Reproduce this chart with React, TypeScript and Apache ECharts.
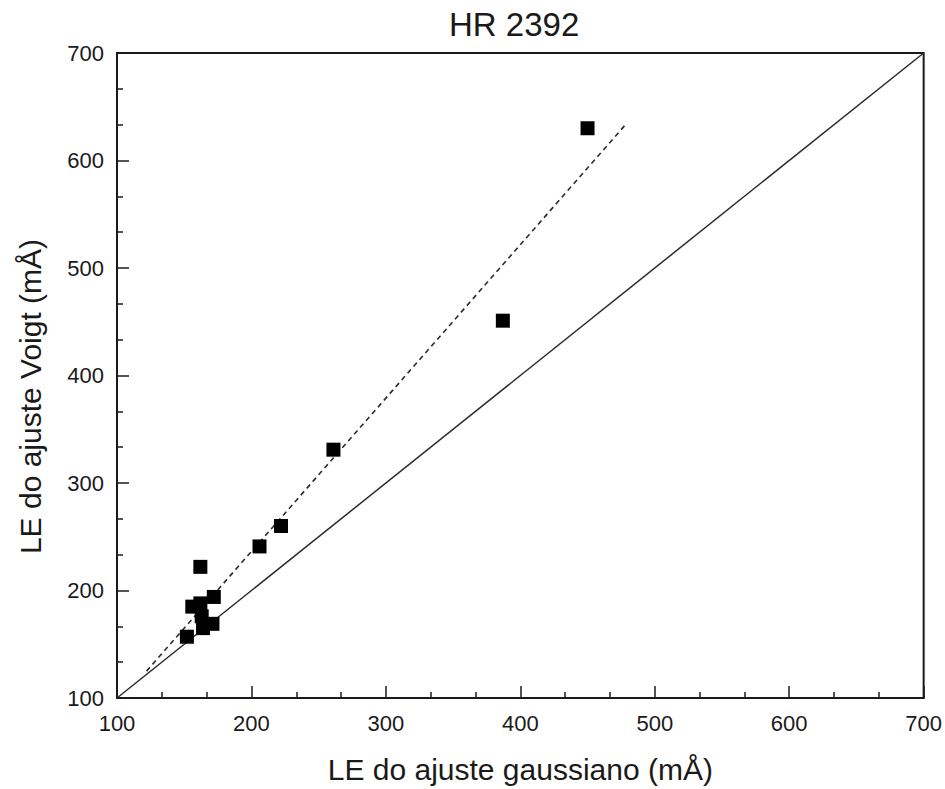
import React, { useEffect, useRef } from "react";
import * as echarts from "echarts";

const chartTitle = "HR 2392";
const xAxisName = "LE do ajuste gaussiano (mÅ)";
const yAxisName = "LE do ajuste Voigt (mÅ)";

// Equivalent widths: Gaussian fit (x) vs Voigt fit (y), mÅ
const gaussEW = [152, 156, 162, 163, 164, 171, 172, 162, 206, 222, 261, 387, 450];
const voigtEW = [157, 185, 188, 176, 165, 169, 194, 222, 241, 260, 331, 451, 630];

// identity line (y = x)
const identityX = [100, 700];
const identityY = [100, 700];

// fitted (dashed) line endpoints
const fitX = [122, 478];
const fitY = [125, 633];

const FONT = "'Liberation Sans', Arial, Helvetica, sans-serif";
const INK = "#1a1a1a";

export default function App() {
  const ref = useRef<HTMLDivElement>(null);

  useEffect(() => {
    if (!ref.current) return;
    const chart = echarts.init(ref.current, null, { renderer: "svg" });

    const scatterData = gaussEW.map((x, i) => [x, voigtEW[i]]);
    const identityData = identityX.map((x, i) => [x, identityY[i]]);
    const fitData = fitX.map((x, i) => [x, fitY[i]]);

    const axisCommon = {
      type: "value" as const,
      min: 100,
      max: 700,
      interval: 100,
      axisLine: { show: true, onZero: false, lineStyle: { color: INK, width: 2 } },
      axisTick: { show: true, inside: true, length: 12, lineStyle: { color: INK, width: 1.5 } },
      minorTick: { show: true, splitNumber: 3, length: 6, lineStyle: { color: INK, width: 1.5 } },
      splitLine: { show: false },
      minorSplitLine: { show: false },
      nameLocation: "middle" as const,
    };

    chart.setOption({
      animation: false,
      backgroundColor: "#ffffff",
      textStyle: { fontFamily: FONT },
      title: {
        text: chartTitle,
        left: 449,
        top: 8,
        padding: 0,
        textStyle: { fontFamily: FONT, fontSize: 33, fontWeight: "normal", color: INK },
      },
      grid: {
        left: 117,
        right: 21,
        top: 53,
        bottom: 88,
        show: true,
        borderColor: INK,
        borderWidth: 2,
        backgroundColor: "transparent",
      },
      xAxis: {
        ...axisCommon,
        name: xAxisName,
        nameGap: 56,
        nameTextStyle: { fontFamily: FONT, fontSize: 30, color: INK },
        axisLabel: { fontFamily: FONT, fontSize: 22, color: INK, margin: 14 },
      },
      yAxis: {
        ...axisCommon,
        name: yAxisName,
        nameGap: 72,
        nameRotate: 90,
        nameTextStyle: { fontFamily: FONT, fontSize: 30, color: INK, padding: [0, 42, 0, 0] },
        axisLabel: { fontFamily: FONT, fontSize: 22, color: INK, margin: 13 },
      },
      series: [
        {
          type: "line",
          data: identityData,
          showSymbol: false,
          symbol: "none",
          lineStyle: { color: "#2a2a2a", width: 1.5 },
          silent: true,
          z: 2,
        },
        {
          type: "line",
          data: fitData,
          showSymbol: false,
          symbol: "none",
          lineStyle: { color: "#2a2a2a", width: 1.6, type: [5, 4] },
          silent: true,
          z: 2,
        },
        {
          type: "scatter",
          data: scatterData,
          symbol: "rect",
          symbolSize: 14,
          itemStyle: { color: "#000", opacity: 1 },
          z: 3,
        },
      ],
    });

    return () => chart.dispose();
  }, []);

  return (
    <div
      ref={ref}
      style={{ position: "fixed", left: 0, top: 0, width: 945, height: 789, background: "#fff" }}
    />
  );
}
